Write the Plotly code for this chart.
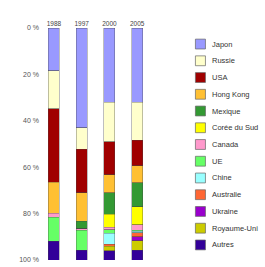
import plotly.graph_objects as go

years = ["1988", "1997", "2000", "2005"]
countries = ["Japon", "Russie", "USA", "Hong Kong", "Mexique", "Corée du Sud",
             "Canada", "UE", "Chine", "Australie", "Ukraine", "Royaume-Uni", "Autres"]
colors = ["#9999ff", "#ffffcc", "#a00000", "#ffc033", "#339933", "#ffff00",
          "#ff99cc", "#66ff66", "#99ffff", "#ff6633", "#9900cc", "#cccc00", "#330099"]

japon = [18.4, 43.1, 32.1, 32.1]
russie = [16.3, 9.1, 17.0, 16.3]
usa = [31.8, 18.8, 14.1, 11.0]
hong_kong = [13.3, 12.3, 7.8, 7.4]
mexique = [0, 3.2, 9.2, 10.3]
coree = [0, 0, 5.6, 7.8]
canada = [1.8, 0.7, 1.2, 2.3]
ue = [10.3, 8.5, 1.4, 0.5]
chine = [0, 0, 4.9, 0.6]
australie = [0, 0, 0.8, 1.7]
ukraine = [0, 0, 0, 1.7]
royaume_uni = [0, 0, 2.0, 4.2]
autres = [8.1, 4.3, 3.9, 4.1]

series = [japon, russie, usa, hong_kong, mexique, coree, canada, ue, chine,
          australie, ukraine, royaume_uni, autres]

yticks = [0, 20, 40, 60, 80, 100]
ytick_labels = ["0 %", "20 %", "40 %", "60 %", "80 %", "100 %"]

W, H = 265, 267
L, T = 40, 28
PW = 110.7
PH = 235.6
R = W - L - PW
B = H - T - PH

fig = go.Figure()
for name, col, vals in zip(countries, colors, series):
    fig.add_trace(go.Bar(
        x=years, y=vals, name=name, width=0.4,
        marker=dict(color=col, line=dict(color="rgba(70,70,70,0.7)", width=0.5)),
        showlegend=False,
    ))

def px2x(px):
    return (px - L) / PW

def py2y(py):
    return 1 - (py - T) / PH

shapes = []
annotations = []
y0 = 44.3
step = 17.0
for i, (name, col) in enumerate(zip(countries, colors)):
    cy = y0 + i * step
    shapes.append(dict(type="rect", xref="paper", yref="paper",
                       x0=px2x(195), x1=px2x(205), y0=py2y(cy - 5), y1=py2y(cy + 5),
                       fillcolor=col, line=dict(color="#666666", width=0.7)))
    annotations.append(dict(xref="paper", yref="paper", x=px2x(210), y=py2y(cy),
                            text=name, showarrow=False, xanchor="left", yanchor="middle",
                            font=dict(size=7.5, color="#333333", family="Liberation Sans")))

fig.update_layout(
    width=W, height=H,
    margin=dict(l=L, r=R, t=T, b=B, pad=0),
    barmode="stack",
    plot_bgcolor="white", paper_bgcolor="white",
    shapes=shapes, annotations=annotations,
    xaxis=dict(side="top", range=[-0.5, 3.5], showgrid=False, zeroline=False,
               showline=False, ticks="", tickfont=dict(size=6.5, color="#444444",
               family="Liberation Sans"), ticklabeloverflow="allow"),
    yaxis=dict(range=[100, 0], tickvals=yticks, ticktext=ytick_labels, showgrid=False,
               zeroline=False, showline=False, ticks="", ticklabeloverflow="allow",
               tickfont=dict(size=7, color="#555555", family="Liberation Sans")),
)

fig.write_html("out.html", config={"displayModeBar": False},
               post_script="document.body.style.margin='0';document.body.style.overflow='hidden';")
